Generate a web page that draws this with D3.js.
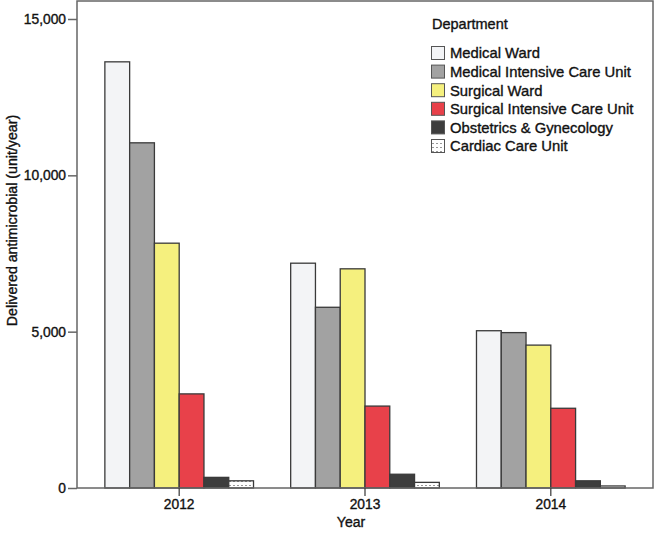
<!DOCTYPE html>
<html>
<head>
<meta charset="utf-8">
<script src="https://cdn.jsdelivr.net/npm/d3@7"></script>
<style>
  body { margin: 0; background: #fff; }
  text { font-family: "Liberation Sans", Arial, sans-serif; fill: #111; stroke: #111; stroke-width: 0.35; }
</style>
</head>
<body>
<svg id="chart" width="655" height="538"></svg>
<script>
const years = ["2012", "2013", "2014"];
const departments = [
  "Medical Ward",
  "Medical Intensive Care Unit",
  "Surgical Ward",
  "Surgical Intensive Care Unit",
  "Obstetrics & Gynecology",
  "Cardiac Care Unit"
];
// values per department, in year order
const medicalWard = [13630, 7190, 5030];
const medicalICU = [11040, 5780, 4970];
const surgicalWard = [7830, 7010, 4570];
const surgicalICU = [3010, 2620, 2550];
const obGyn = [340, 440, 230];
const cardiacCare = [230, 180, 65];
const yTicks = [0, 5000, 10000, 15000];

const seriesValues = [medicalWard, medicalICU, surgicalWard, surgicalICU, obGyn, cardiacCare];
const colours = ["#f3f4f6", "#a2a2a2", "#f5f07e", "#e8414a", "#3d3d3d", "url(#dots)"];

const margin = {top: 1, right: 2, bottom: 50, left: 77},
      width = 655,
      height = 538;

const svg = d3.select("#chart");

// dotted fill for the cardiac care unit
const pat = svg.append("defs").append("pattern")
    .attr("id", "dots")
    .attr("patternUnits", "userSpaceOnUse")
    .attr("width", 4)
    .attr("height", 4);
pat.append("rect").attr("width", 4).attr("height", 4).attr("fill", "#fff");
pat.append("rect").attr("x", 1).attr("y", 1).attr("width", 2).attr("height", 1).attr("fill", "#999");

const x0 = d3.scaleBand()
    .domain(years)
    .range([margin.left, width - margin.right])
    .paddingInner(0.2)
    .paddingOuter(0.15);

const x1 = d3.scaleBand()
    .domain(departments)
    .range([0, x0.bandwidth()]);

const y = d3.scaleLinear()
    .domain([0, 15000])
    .range([height - margin.bottom, 19]);

const data = years.flatMap((yr, i) =>
  departments.map((dep, j) => ({year: yr, dep: dep, value: seriesValues[j][i], colour: colours[j]})));

// bars
svg.append("g")
    .attr("stroke", "#3a3a3a")
    .attr("stroke-width", 1.3)
  .selectAll("rect")
  .data(data)
  .join("rect")
    .attr("x", d => x0(d.year) + x1(d.dep))
    .attr("y", d => y(d.value))
    .attr("width", x1.bandwidth())
    .attr("height", d => y(0) - y(d.value))
    .attr("fill", d => d.colour);

// frame
svg.append("rect")
    .attr("x", margin.left)
    .attr("y", margin.top)
    .attr("width", width - margin.left - margin.right)
    .attr("height", y(0) - margin.top)
    .attr("fill", "none")
    .attr("stroke", "#666")
    .attr("stroke-width", 1.5);

// y axis
const yAxis = svg.append("g")
    .attr("transform", `translate(${margin.left},0)`)
    .call(d3.axisLeft(y).tickValues(yTicks).tickFormat(d3.format(",")).tickSize(9).tickPadding(2));
yAxis.select(".domain").remove();
yAxis.selectAll("line").attr("stroke", "#666").attr("stroke-width", 1.5);
yAxis.selectAll("text").attr("font-size", 13.8).attr("font-family", "Liberation Sans, Arial, sans-serif").attr("fill", "#111");

// x axis
const xAxis = svg.append("g")
    .attr("transform", `translate(0,${y(0)})`)
    .call(d3.axisBottom(x0).tickSize(8).tickPadding(3));
xAxis.select(".domain").remove();
xAxis.selectAll("line").attr("stroke", "#444").attr("stroke-width", 1.3);
xAxis.selectAll("text").attr("font-size", 13.8).attr("font-family", "Liberation Sans, Arial, sans-serif").attr("fill", "#111");

// axis titles
svg.append("text")
    .attr("x", (margin.left + width - margin.right) / 2 - 14)
    .attr("y", 527)
    .attr("text-anchor", "middle")
    .attr("font-size", 14)
    .text("Year");

svg.append("text")
    .attr("transform", `translate(17,${(margin.top + y(0)) / 2 - 24}) rotate(-90)`)
    .attr("text-anchor", "middle")
    .attr("font-size", 14.2)
    .text("Delivered antimicrobial (unit/year)");

// legend
const legend = svg.append("g").attr("transform", "translate(431,0)");
legend.append("text")
    .attr("x", 1)
    .attr("y", 29)
    .attr("font-size", 14.5)
    .text("Department");

const item = legend.selectAll("g.item")
  .data(departments)
  .join("g")
    .attr("class", "item")
    .attr("transform", (d, i) => `translate(0,${53 + i * 18.6})`);
item.append("rect")
    .attr("x", 0.5)
    .attr("y", -6.5)
    .attr("width", 13)
    .attr("height", 13)
    .attr("fill", (d, i) => colours[i])
    .attr("stroke", "#555")
    .attr("stroke-width", 1);
item.append("text")
    .attr("x", 19)
    .attr("dy", "0.36em")
    .attr("font-size", 14.8)
    .text(d => d);
</script>
</body>
</html>
